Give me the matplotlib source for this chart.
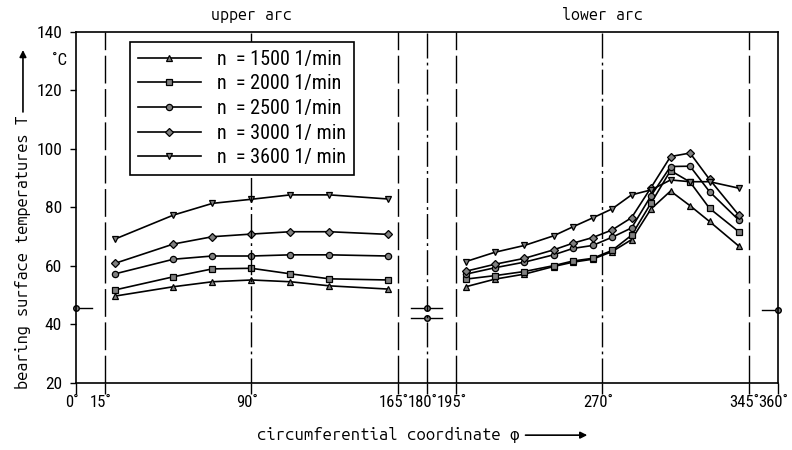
import matplotlib
matplotlib.use("Agg")
import matplotlib.pyplot as plt
from matplotlib import font_manager
from matplotlib.patches import FancyArrowPatch
from matplotlib.transforms import ScaledTranslation

names = {f.name for f in font_manager.fontManager.ttflist}


def pick(cands):
    for c in cands:
        if c in names:
            return c
    return 'DejaVu Sans'


NARROW = pick(['Roboto Condensed', 'PT Sans Narrow', 'Archivo Narrow', 'Liberation Sans Narrow'])
MONO = pick(['Ubuntu Mono', 'Share Tech Mono', 'PT Mono', 'DejaVu Sans Mono'])
plt.rcParams['font.family'] = [NARROW, 'DejaVu Sans']

# upper arc measuring points (deg) and temperatures (C)
upper_phi = [20, 50, 70, 90, 110, 130, 160]
upper_1500 = [49.7, 52.9, 54.6, 55.2, 54.6, 53.2, 52.1]
upper_2000 = [51.8, 56.3, 59.0, 59.2, 57.3, 55.6, 55.2]
upper_2500 = [57.3, 62.3, 63.4, 63.4, 63.8, 63.8, 63.4]
upper_3000 = [60.9, 67.5, 70.0, 70.9, 71.7, 71.7, 70.8]
upper_3600 = [69.2, 77.4, 81.4, 82.8, 84.3, 84.3, 82.9]

# lower arc
lower_phi = [200, 215, 230, 245, 255, 265, 275, 285, 295, 305, 315, 325, 340]
lower_1500 = [52.9, 55.5, 57.2, 59.8, 61.3, 62.3, 64.9, 69.0, 79.5, 85.6, 80.6, 75.2, 66.8]
lower_2000 = [55.5, 56.7, 58.1, 60.1, 61.7, 62.6, 65.3, 70.5, 81.5, 92.6, 88.7, 79.7, 71.7]
lower_2500 = [57.2, 59.4, 61.3, 63.8, 66.0, 67.0, 69.8, 73.0, 84.0, 94.0, 94.1, 85.4, 75.7]
lower_3000 = [58.2, 60.6, 62.6, 65.5, 67.8, 69.7, 72.3, 76.5, 86.8, 97.4, 98.6, 89.6, 77.4]
lower_3600 = [61.5, 64.7, 67.0, 70.3, 73.4, 76.4, 79.5, 84.3, 86.0, 89.4, 88.8, 88.8, 86.6]

# single readings at the oil inlets
inlet_phi = [0, 180, 180, 360]
inlet_T = [45.6, 45.7, 42.1, 45.0]

markers = ['^', 's', 'o', 'D', 'v']
labels = ['n  = 1500 1/min', 'n  = 2000 1/min', 'n  = 2500 1/min',
          'n  = 3000 1/ min', 'n  = 3600 1/ min']
upper = [upper_1500, upper_2000, upper_2500, upper_3000, upper_3600]
lower = [lower_1500, lower_2000, lower_2500, lower_3000, lower_3600]

xticks = [0, 15, 90, 165, 180, 195, 270, 345, 360]
xticklabels = ['0\u02da', '15\u02da', '90\u02da', '165\u02da', '180\u02da',
               '195\u02da', '270\u02da', '345\u02da', '360\u02da']

fig = plt.figure(figsize=(7.92, 4.5), dpi=100)
ax = fig.add_axes([0.096, 0.149, 0.886, 0.78])

for m, lab, u, l in zip(markers, labels, upper, lower):
    ms = 4.5 if m in ('D', 'o', 's') else 5
    ax.plot(upper_phi, u, color='black', lw=1.2, marker=m, ms=ms,
            mfc='0.5', mec='black', mew=0.9, label=lab)
    ax.plot(lower_phi, l, color='black', lw=1.2, marker=m, ms=ms,
            mfc='0.5', mec='black', mew=0.9)

# inlet points with their short horizontal bars
for p, t in zip(inlet_phi, inlet_T):
    ax.plot([max(p - 8, 0), min(p + 8, 360)], [t, t], color='black', lw=1.0)
    ax.plot(p, t, marker='o', ms=4, mfc='0.5', mec='black', clip_on=False)

# boundary and centre lines of the arcs
for p in [15, 165, 195, 345]:
    ax.axvline(p, color='black', lw=1.0, ls=(0, (20, 4)))
for p in [90, 180, 270]:
    ax.axvline(p, color='black', lw=1.0, ls=(0, (18, 3, 2, 3)))

ax.set_xlim(0, 360)
ax.set_ylim(20, 140)
ax.set_xticks(xticks)
ax.set_xticklabels(xticklabels)
ax.set_yticks([20, 40, 60, 80, 100, 120, 140])
ax.tick_params(axis='x', direction='out', length=8, width=1.0, labelsize=12, pad=1)
ax.tick_params(axis='y', direction='out', length=4, width=1.0, labelsize=12.5, pad=6)
# numbers sit centred on the tick, the degree sign hangs to the right
shift = ScaledTranslation(-3 / 72, 0, fig.dpi_scale_trans)
for t in ax.get_xticklabels():
    t.set_transform(t.get_transform() + shift)
for s in ax.spines.values():
    s.set_linewidth(1.2)

leg = ax.legend(loc='upper left', bbox_to_anchor=(0.077, 0.972), fontsize=14.5,
                frameon=True, fancybox=False, edgecolor='black', framealpha=1,
                handlelength=3.1, borderpad=0.4, labelspacing=0.28, handletextpad=0.8,
                borderaxespad=0)
leg.get_frame().set_linewidth(1.2)

ax.text(90, 143, 'upper arc', ha='center', va='bottom', fontsize=11.5,
        family=MONO, weight='bold')
ax.text(270, 143, 'lower arc', ha='center', va='bottom', fontsize=11.5,
        family=MONO, weight='bold')
fig.text(0.075, 0.865, '\u02daC', ha='center', va='center', fontsize=12)

fig.text(0.029, 0.44, 'bearing surface temperatures T', rotation=90, ha='center',
         va='center', fontsize=11.8, family=MONO, weight='bold')
fig.text(0.49, 0.033, 'circumferential coordinate \u03c6', ha='center', va='center',
         fontsize=12, family=[MONO, 'DejaVu Sans'], weight='bold')

fig.add_artist(FancyArrowPatch((0.029, 0.745), (0.029, 0.895), transform=fig.transFigure,
                               arrowstyle='-|>', mutation_scale=10, color='black', lw=1.2))
fig.add_artist(FancyArrowPatch((0.66, 0.033), (0.745, 0.033), transform=fig.transFigure,
                               arrowstyle='-|>', mutation_scale=10, color='black', lw=1.2))

fig.savefig('out.png', dpi=100)
